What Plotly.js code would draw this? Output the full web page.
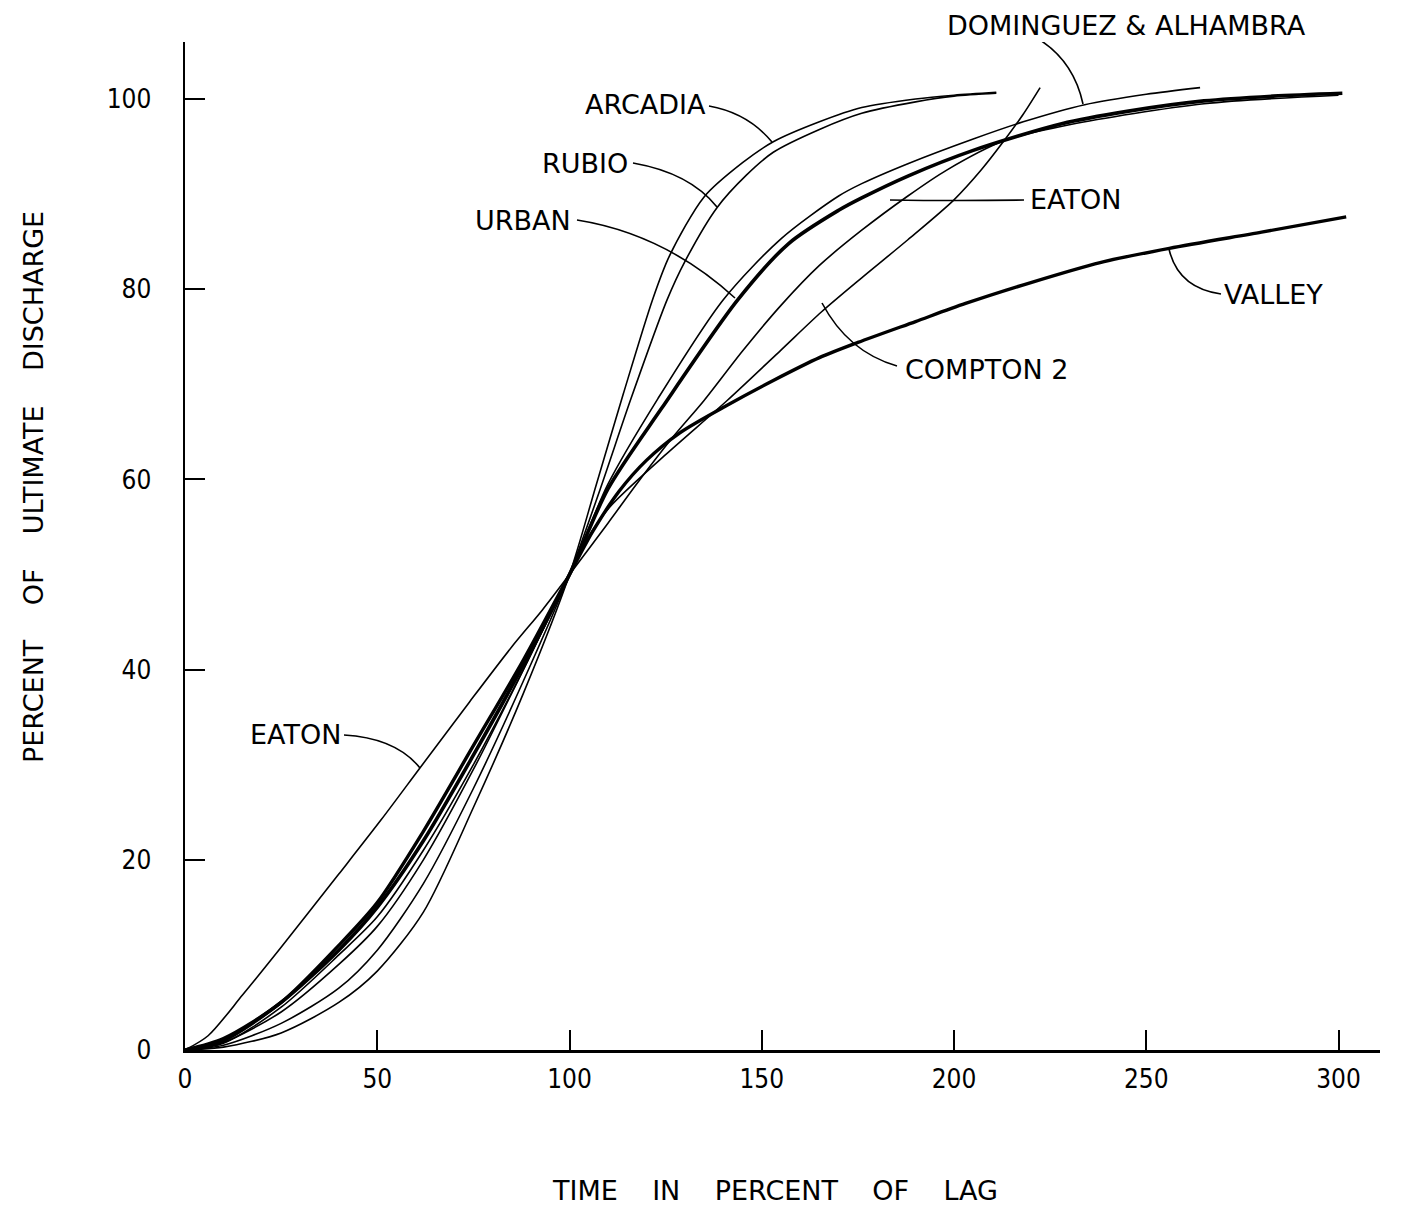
<!DOCTYPE html>
<html>
<head>
<meta charset="utf-8">
<script src="https://cdn.plot.ly/plotly-3.0.1.min.js"></script>
<style>html,body{margin:0;padding:0;background:#fff;}#chart{width:1413px;height:1206px;}</style>
</head>
<body>
<div id="chart"></div>
<script>
// ---- DATA (time in percent of lag, percent of ultimate discharge) ----
const arcadiaX = [0, 10, 25, 40, 50, 62, 75, 88, 100, 107, 114, 121.6, 126, 135, 145, 153, 165, 176, 190, 200, 211];
const arcadiaY = [0, 0.3, 1.8, 5, 8.3, 14.5, 25.5, 37.5, 50, 59.5, 69, 78.9, 83.5, 89.7, 93.3, 95.5, 97.6, 99.1, 100, 100.4, 100.7];

const rubioX = [0, 10, 25, 40, 50, 62, 75, 88, 100, 108, 116, 125.4, 130, 138.4, 146, 153, 165, 176, 190, 200, 211];
const rubioY = [0, 0.5, 2.8, 6.5, 10.5, 17.5, 27.5, 38.8, 50, 59, 68.5, 78.9, 82.9, 88.6, 92, 94.4, 96.8, 98.5, 99.7, 100.3, 100.6];

const domAlhX = [0, 10, 25, 40, 50, 62, 75, 88, 100, 110, 123, 140, 155, 170, 176, 188, 205, 218, 234, 250, 264];
const domAlhY = [0, 0.8, 4, 9, 13, 20, 29.5, 40, 50, 59.5, 68.5, 78.9, 85.3, 89.8, 91.1, 93.2, 95.8, 97.6, 99.4, 100.5, 101.2];

const urbanX = [0, 10, 25, 40, 50, 62, 75, 88, 100, 110, 124, 143.8, 157, 170, 176, 188, 205, 228, 245, 265, 283, 301];
const urbanY = [0, 1, 5, 10.5, 15, 22, 31, 40.5, 50, 59, 67.5, 78.9, 84.8, 88.3, 89.6, 91.9, 94.6, 97.4, 98.7, 99.8, 100.3, 100.6];

const eatonX = [0, 6, 15, 25, 40, 51, 61, 74, 85, 93, 100, 110, 118, 127, 135, 145, 155, 165, 176, 188, 198, 213, 230, 265, 300];
const eatonY = [0, 1.5, 5.8, 10.8, 18.5, 24.2, 29.6, 36.6, 42.4, 46.3, 50, 55.4, 59.8, 64.5, 68.3, 73.5, 78.3, 82.5, 86.2, 89.8, 92.5, 95.6, 97.3, 99.5, 100.4];

const comptonX = [0, 10, 25, 40, 50, 62, 75, 88, 100, 105, 110.5, 125, 141, 155, 165.5, 176, 188, 200, 207, 213, 218, 222.4];
const comptonY = [0, 0.7, 4.5, 10, 14, 21, 30, 40, 50, 54, 57.1, 62.6, 68.3, 73.6, 77.6, 81.2, 85.2, 89.4, 92.5, 95.6, 98.4, 101.2];

const valleyX = [0, 10, 25, 40, 50, 62, 75, 88, 100, 106, 113, 120, 128.7, 141, 153, 165, 175, 190, 203, 220, 238, 256, 280, 302];
const valleyY = [0, 1.2, 5, 11, 15.5, 23, 32, 41, 50, 54.5, 58.8, 62, 64.9, 67.8, 70.4, 72.8, 74.4, 76.6, 78.5, 80.7, 82.8, 84.3, 86, 87.6];

const xTicks = [0, 50, 100, 150, 200, 250, 300];
const yTicks = [0, 20, 40, 60, 80, 100];

// ---- pixel <-> data helpers for label placement ----
const X0 = 185, XS = 3.845, Y0 = 1050, YS = 9.51;
const dx = p => (p - X0) / XS;
const dy = p => (Y0 - p) / YS;
const PL = 185, PR = 1380, PT = 42, PB = 1050;
const px2paperX = p => (p - PL) / (PR - PL);
const px2paperY = p => (PB - p) / (PB - PT);

const FONT = 'DejaVu Sans, Liberation Sans, Arial, sans-serif';
const TICKFONT = 'DejaVu Sans Condensed, Liberation Sans Narrow, DejaVu Sans, sans-serif';

function curve(x, y, w) {
  return {x: x, y: y, type: 'scatter', mode: 'lines',
          line: {color: '#000', width: w, shape: 'spline', smoothing: 0.8},
          hoverinfo: 'skip', showlegend: false};
}

const data = [
  curve(arcadiaX, arcadiaY, 1.6),
  curve(rubioX, rubioY, 1.6),
  curve(domAlhX, domAlhY, 1.6),
  curve(eatonX, eatonY, 1.6),
  curve(comptonX, comptonY, 1.6),
  curve(urbanX, urbanY, 3.6),
  curve(valleyX, valleyY, 3.4)
];

// labels: [text, left px, center y px]
const labels = [
  ['ARCADIA', 583, 104],
  ['RUBIO', 540, 163],
  ['URBAN', 473, 220],
  ['EATON', 1028, 199],
  ['DOMINGUEZ & ALHAMBRA', 945, 25],
  ['VALLEY', 1222, 294],
  ['COMPTON 2', 903, 370],
  ['EATON', 248, 734]
];
// leaders: start, control, end (pixels)
const leaders = [
  [[709,106],[748,113],[772,142]],
  [[633,163],[690,173],[717,207]],
  [[577,220],[665,234],[735,298]],
  [[1024,200],[957,201],[890,200]],
  [[1040,40],[1074,62],[1083,104]],
  [[1221,294],[1178,288],[1169,249]],
  [[897,366],[848,352],[822,303]],
  [[344,735],[396,738],[420,768]]
];

const annotations = labels.map(l => ({
  text: l[0], x: px2paperX(l[1]), y: px2paperY(l[2]), xref: 'paper', yref: 'paper',
  xanchor: 'left', yanchor: 'middle', showarrow: false,
  font: {family: FONT, size: 27, color: '#000'}
}));
const nb = '\u00a0\u00a0\u00a0\u00a0';
annotations.push({
  text: 'TIME' + nb + 'IN' + nb + 'PERCENT' + nb + 'OF' + nb + 'LAG',
  x: px2paperX(775), y: px2paperY(1190), xref: 'paper', yref: 'paper', xanchor: 'center', yanchor: 'middle',
  showarrow: false, font: {family: FONT, size: 27, color: '#000'}
});
annotations.push({
  text: 'PERCENT' + nb + 'OF' + nb + 'ULTIMATE' + nb + 'DISCHARGE',
  x: px2paperX(33), y: px2paperY(487), xref: 'paper', yref: 'paper', xanchor: 'center', yanchor: 'middle',
  textangle: -90, showarrow: false, font: {family: FONT, size: 27, color: '#000'}
});

const shapes = leaders.map(s => ({
  type: 'path', xref: 'x', yref: 'y',
  path: 'M ' + dx(s[0][0]) + ',' + dy(s[0][1]) + ' Q ' + dx(s[1][0]) + ',' + dy(s[1][1]) + ' ' + dx(s[2][0]) + ',' + dy(s[2][1]),
  line: {color: '#000', width: 1.6}
}));

const layout = {
  width: 1413, height: 1206,
  paper_bgcolor: '#fff', plot_bgcolor: '#fff',
  margin: {l: PL, r: 1413 - PR, t: PT, b: 1206 - PB},
  showlegend: false,
  xaxis: {
    range: [0, dx(PR)], tickvals: xTicks, ticktext: xTicks.map(String),
    ticks: 'inside', ticklen: 20, tickwidth: 2, tickcolor: '#000',
    showline: true, linewidth: 2.5, linecolor: '#000',
    showgrid: false, zeroline: false, ticklabelstandoff: 4,
    tickfont: {family: TICKFONT, size: 26, color: '#000'}
  },
  yaxis: {
    range: [0, dy(PT)], tickvals: yTicks, ticktext: yTicks.map(String),
    ticks: 'inside', ticklen: 20, tickwidth: 2, tickcolor: '#000',
    showline: true, linewidth: 2.5, linecolor: '#000',
    showgrid: false, zeroline: false, ticklabelstandoff: 26,
    tickfont: {family: TICKFONT, size: 26, color: '#000'}
  },
  annotations: annotations,
  shapes: shapes
};

Plotly.newPlot('chart', data, layout, {staticPlot: true, displayModeBar: false});
</script>
</body>
</html>
